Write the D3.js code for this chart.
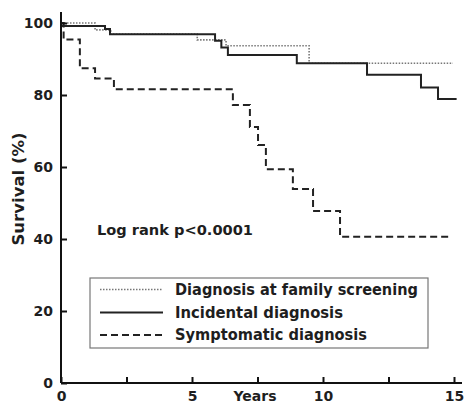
<!DOCTYPE html>
<html>
<head>
<meta charset="utf-8">
<script src="https://cdn.jsdelivr.net/npm/d3@7"></script>
<style>
  html, body { margin: 0; padding: 0; background: #fff; }
  svg { display: block; }
  text { font-family: "DejaVu Sans", Verdana, sans-serif; font-weight: bold; fill: #1e1e1e; }
</style>
</head>
<body>
<svg id="chart" width="467" height="403"></svg>
<script>
// Kaplan–Meier survival steps: [years, survival %]
const familyScreening = [[0, 100], [1.3, 98.1], [1.9, 96.9], [5.2, 95.3], [6.3, 93.7], [9.47, 88.8], [14.96, 88.8]];
const incidental = [[0, 99.2], [1.68, 98.3], [1.87, 96.9], [5.88, 95.1], [6.12, 93.2], [6.37, 91.1], [9.0, 88.8], [11.68, 85.6], [13.74, 82.1], [14.39, 78.9], [15.1, 78.9]];
const symptomatic = [[0, 100], [0.1, 95.4], [0.72, 87.4], [1.3, 84.6], [2.02, 81.6], [6.56, 77.2], [7.21, 71.1], [7.52, 66.1], [7.82, 59.4], [8.85, 53.9], [9.62, 47.8], [10.65, 40.6], [14.92, 40.6]];

const seriesNames = ["Diagnosis at family screening", "Incidental diagnosis", "Symptomatic diagnosis"];
const yTicks = [0, 20, 40, 60, 80, 100];
const xTicks = [0, 2.5, 5, 7.5, 10, 12.5, 15];
const xLabels = ["0", "", "5", "", "10", "", "15"];
const yTitle = "Survival (%)";
const xTitle = "Years";
const annotation = "Log rank p<0.0001";

const svg = d3.select("#chart");
const x = d3.scaleLinear().domain([0, 15]).range([61, 454]);
const y = d3.scaleLinear().domain([0, 100]).range([383, 23]);

const styles = [
  { stroke: "#777", width: 1.6, dash: "1.5,1.5" },
  { stroke: "#222", width: 2, dash: null },
  { stroke: "#222", width: 2, dash: "7,4" }
];

const line = d3.line().x(d => x(d[0])).y(d => y(d[1])).curve(d3.curveStepAfter);

[familyScreening, incidental, symptomatic].forEach((data, i) => {
  const s = styles[i];
  svg.append("path")
    .datum(data)
    .attr("d", line)
    .attr("fill", "none")
    .attr("stroke", s.stroke)
    .attr("stroke-width", s.width)
    .attr("stroke-dasharray", s.dash);
});

// Axes with inward ticks
const yAxis = svg.append("g")
  .attr("transform", `translate(${x(0)},0)`)
  .call(d3.axisLeft(y).tickValues(yTicks).tickSize(-6).tickPadding(8).tickSizeOuter(0));
const xAxis = svg.append("g")
  .attr("transform", `translate(0,${y(0)})`)
  .call(d3.axisBottom(x).tickValues(xTicks).tickSize(-6).tickPadding(8).tickSizeOuter(0)
    .tickFormat((d, i) => xLabels[i]));

[yAxis, xAxis].forEach(g => {
  g.selectAll("line").attr("stroke", "#111").attr("stroke-width", 2);
  g.select(".domain").attr("stroke", "#111").attr("stroke-width", 2);
  g.selectAll("text").style("font-size", "14px").attr("fill", "#1e1e1e");
});
// extend axis lines a little past the plotted range
yAxis.select(".domain").attr("d", `M0,${y(0)}V12`);
xAxis.select(".domain").attr("d", `M${x(0)},0H462`);

svg.append("text")
  .attr("x", 255).attr("y", 401)
  .attr("text-anchor", "middle")
  .style("font-size", "14px")
  .text(xTitle);

svg.append("text")
  .attr("transform", `translate(24,189) rotate(-90)`)
  .attr("text-anchor", "middle")
  .style("font-size", "15px")
  .attr("textLength", 113)
  .attr("lengthAdjust", "spacingAndGlyphs")
  .text(yTitle);

svg.append("text")
  .attr("x", 97).attr("y", 235)
  .style("font-size", "14px")
  .attr("textLength", 156)
  .attr("lengthAdjust", "spacingAndGlyphs")
  .text(annotation);

// Legend
const legend = svg.append("g");
legend.append("rect")
  .attr("x", 90).attr("y", 278).attr("width", 338).attr("height", 70)
  .attr("fill", "none").attr("stroke", "#777").attr("stroke-width", 1.2);
const rowY = [289.5, 312.5, 335];
const textLen = [243, 168, 192];
seriesNames.forEach((name, i) => {
  const s = styles[i];
  legend.append("line")
    .attr("x1", 100).attr("x2", 163).attr("y1", rowY[i]).attr("y2", rowY[i])
    .attr("stroke", s.stroke).attr("stroke-width", s.width)
    .attr("stroke-dasharray", s.dash);
  legend.append("text")
    .attr("x", 175).attr("y", rowY[i] + 5)
    .style("font-size", "15px")
    .attr("textLength", textLen[i])
    .attr("lengthAdjust", "spacingAndGlyphs")
    .text(name);
});
</script>
</body>
</html>
